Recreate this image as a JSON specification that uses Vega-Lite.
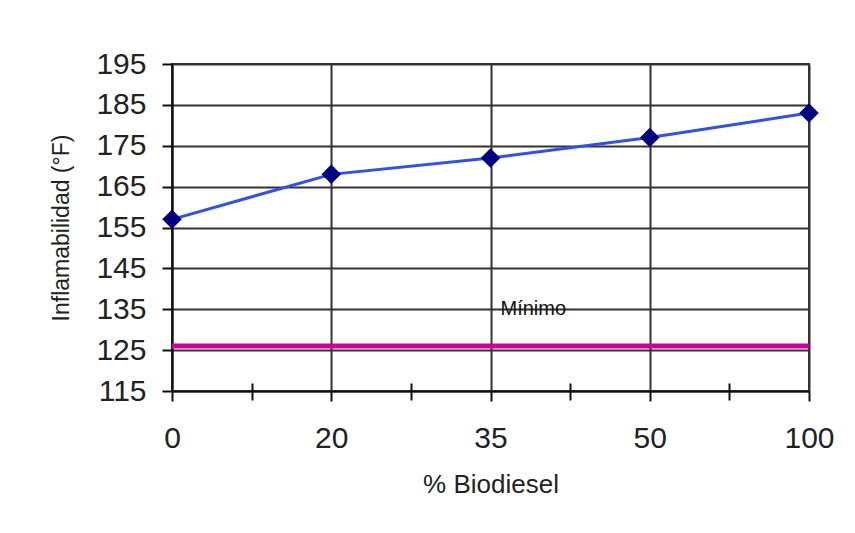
{
  "$schema": "https://vega.github.io/schema/vega-lite/v6.json",
  "width": 637,
  "height": 327,
  "autosize": {"type": "none"},
  "padding": {"left": 172, "top": 64, "right": 46, "bottom": 142},
  "background": "white",
  "config": {
    "view": {"stroke": "#333333", "strokeWidth": 2},
    "font": "Liberation Sans"
  },
  "datasets": {
    "serie": [
      {"biodiesel": "0", "inflamabilidad": 157},
      {"biodiesel": "20", "inflamabilidad": 168},
      {"biodiesel": "35", "inflamabilidad": 172},
      {"biodiesel": "50", "inflamabilidad": 177},
      {"biodiesel": "100", "inflamabilidad": 183}
    ],
    "minimo": [
      {"biodiesel": "35", "nivel": 126, "etiqueta": "Mínimo", "etiqueta_y": 135}
    ]
  },
  "layer": [
    {
      "data": {"name": "serie"},
      "mark": {"type": "line", "color": "#3050E8", "strokeWidth": 3},
      "encoding": {
        "x": {
          "field": "biodiesel", "type": "ordinal",
          "scale": {"type": "point", "padding": 0, "domain": ["0", "20", "35", "50", "100"]},
          "axis": {
            "orient": "bottom", "labelAngle": 0, "title": "% Biodiesel",
            "grid": true, "gridColor": "#333333", "gridWidth": 2,
            "domainColor": "#111", "domainWidth": 2,
            "tickColor": "#111", "tickWidth": 2, "tickSize": 10,
            "labelFontSize": 30, "labelColor": "#222", "labelPadding": 22,
            "titleFontSize": 26, "titleFontWeight": "normal", "titleColor": "#222", "titlePadding": 18
          }
        },
        "y": {
          "field": "inflamabilidad", "type": "quantitative", "title": "Inflamabilidad (°F)",
          "scale": {"domain": [115, 195], "nice": false, "zero": false},
          "axis": {
            "values": [115, 125, 135, 145, 155, 165, 175, 185, 195],
            "grid": true, "gridColor": "#333333", "gridWidth": 2,
            "domainColor": "#111", "domainWidth": 2,
            "tickColor": "#111", "tickWidth": 2, "tickSize": 10,
            "labelFontSize": 30, "labelColor": "#222", "labelPadding": 16,
            "titleFontSize": 23, "titleFontWeight": "normal", "titleColor": "#222", "titlePadding": 22
          }
        }
      }
    },
    {
      "data": {"name": "serie"},
      "mark": {"type": "point", "shape": "diamond", "filled": true, "size": 380, "color": "#000080", "opacity": 1},
      "encoding": {
        "x": {"field": "biodiesel", "type": "ordinal", "scale": {"type": "point", "padding": 0, "domain": ["0", "20", "35", "50", "100"]}, "axis": null},
        "y": {"field": "inflamabilidad", "type": "quantitative", "title": "Inflamabilidad (°F)"}
      }
    },
    {
      "data": {"name": "minimo"},
      "mark": {"type": "rule", "color": "#CC0099", "strokeWidth": 5},
      "encoding": {
        "y": {"field": "nivel", "type": "quantitative", "title": "Inflamabilidad (°F)"}
      }
    },
    {
      "data": {"name": "minimo"},
      "mark": {"type": "text", "align": "left", "baseline": "middle", "dx": 10, "fontSize": 20, "color": "#111"},
      "encoding": {
        "x": {
          "field": "biodiesel", "type": "ordinal",
          "scale": {"type": "point", "padding": 0, "domain": ["0", "20", "35", "50", "100"]},
          "axis": {
            "orient": "bottom", "values": ["0", "20", "35", "50"], "tickOffset": 79.6,
            "labels": false, "domain": false, "grid": false, "title": null,
            "offset": -8, "tickSize": 17, "tickColor": "#111", "tickWidth": 2
          }
        },
        "y": {"field": "etiqueta_y", "type": "quantitative", "title": "Inflamabilidad (°F)"},
        "text": {"field": "etiqueta"}
      }
    }
  ],
  "resolve": {"axis": {"x": "independent"}}
}
